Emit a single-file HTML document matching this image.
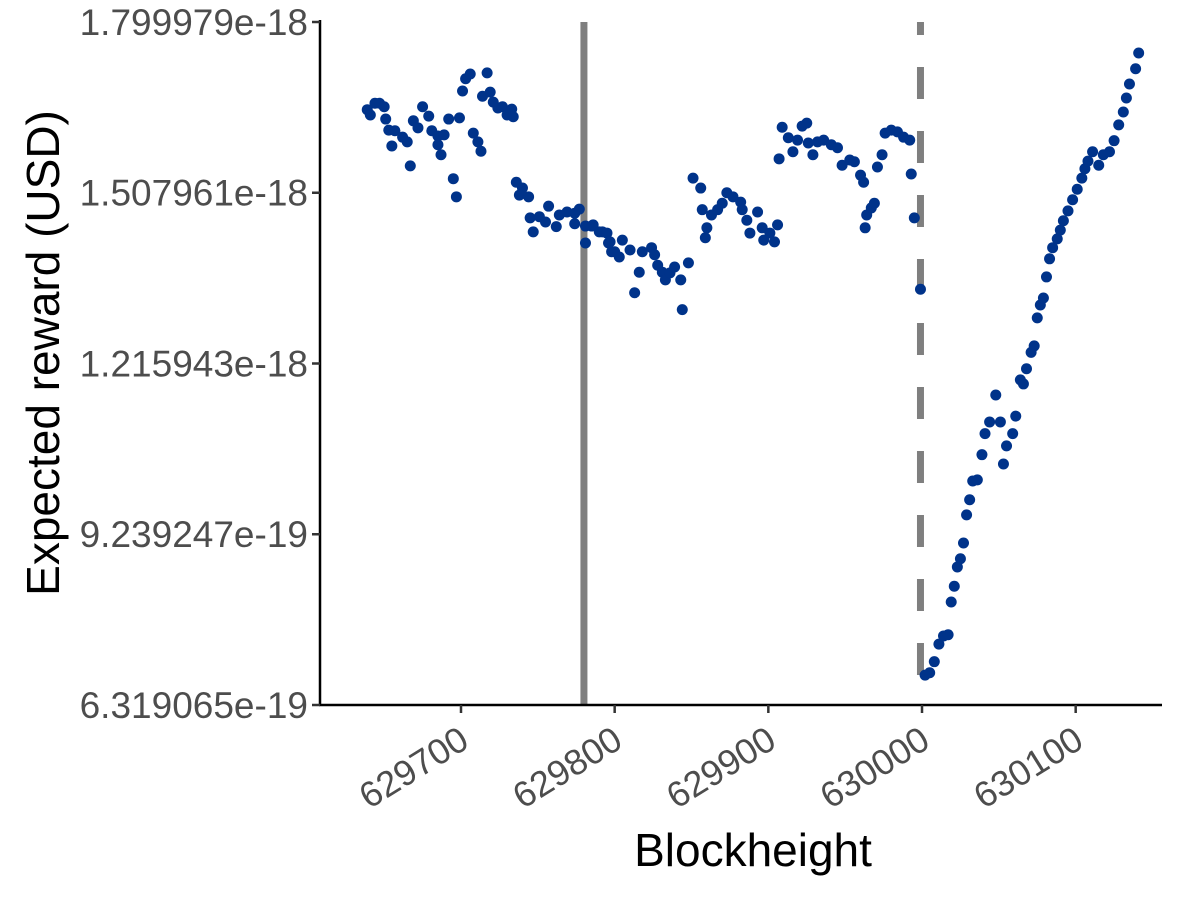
<!DOCTYPE html>
<html><head><meta charset="utf-8"><style>
body{margin:0;background:#fff;}
svg{display:block;font-family:"Liberation Sans",sans-serif;}
</style></head><body>
<svg id="chart" width="1200" height="900" xmlns="http://www.w3.org/2000/svg">
<g id="marks"></g>
</svg>
<script>
const blocks=[629639,629641,629644,629647,629650,629651,629653,629657,629655,629662,629665,629667,629669,629672,629675,629679,629681,629685,629689,629685,629687,629692,629699,629695,629697,629701,629703,629706,629717,629714,629719,629721,629724,629727,629730,629733,629734,629708,629711,629713,629736,629740,629738,629744,629745,629747,629751,629757,629755,629762,629764,629769,629774,629777,629774,629781,629785,629792,629781,629796,629798,629786,629790,629795,629797,629800,629803,629805,629810,629816,629813,629818,629824,629826,629828,629831,629833,629836,629839,629843,629844,629848,629851,629856,629857,629860,629859,629863,629867,629870,629873,629877,629882,629883,629886,629888,629893,629896,629897,629901,629904,629906,629907,629909,629913,629916,629919,629922,629925,629926,629929,629932,629936,629941,629945,629948,629953,629956,629960,629962,629963,629964,629967,629969,629971,629974,629976,629980,629984,629988,629992,629993,629995,629999,630002,630005,630008,630011,630014,630017,630019,630021,630023,630025,630027,630029,630031,630033,630036,630039,630041,630044,630048,630051,630053,630055,630059,630061,630064,630066,630068,630071,630073,630075,630077,630079,630081,630083,630085,630088,630090,630092,630095,630098,630101,630104,630106,630108,630111,630115,630118,630122,630125,630128,630131,630133,630135,630139,630141];
const rewards=[1.650,1.641,1.661,1.661,1.655,1.634,1.615,1.614,1.588,1.603,1.595,1.554,1.631,1.619,1.655,1.639,1.614,1.605,1.607,1.590,1.573,1.634,1.636,1.532,1.501,1.682,1.703,1.711,1.713,1.673,1.680,1.663,1.653,1.655,1.641,1.651,1.638,1.610,1.595,1.579,1.526,1.516,1.504,1.501,1.465,1.441,1.467,1.485,1.458,1.450,1.470,1.475,1.473,1.480,1.455,1.451,1.451,1.441,1.422,1.422,1.407,1.453,1.441,1.439,1.424,1.407,1.398,1.427,1.410,1.372,1.337,1.407,1.414,1.402,1.384,1.372,1.359,1.371,1.381,1.359,1.308,1.388,1.533,1.516,1.479,1.448,1.431,1.470,1.479,1.490,1.508,1.501,1.492,1.479,1.461,1.439,1.475,1.448,1.427,1.439,1.424,1.453,1.566,1.620,1.602,1.578,1.598,1.622,1.627,1.593,1.573,1.595,1.598,1.590,1.585,1.555,1.564,1.561,1.538,1.526,1.448,1.470,1.482,1.490,1.552,1.573,1.610,1.615,1.612,1.603,1.598,1.540,1.465,1.343,0.683,0.687,0.706,0.736,0.750,0.752,0.808,0.835,0.868,0.882,0.909,0.957,0.983,1.015,1.017,1.060,1.096,1.116,1.162,1.116,1.044,1.075,1.096,1.126,1.188,1.181,1.207,1.235,1.246,1.294,1.316,1.328,1.364,1.395,1.414,1.429,1.444,1.460,1.477,1.496,1.514,1.533,1.549,1.562,1.578,1.555,1.573,1.578,1.597,1.624,1.646,1.670,1.694,1.720,1.747];
const yTicks=[0.6319065,0.9239247,1.215943,1.507961,1.799979];
const yTickLabels=["6.319065e-19","9.239247e-19","1.215943e-18","1.507961e-18","1.799979e-18"];
const xTicks=[629700,629800,629900,630000,630100];
const xTickLabels=["629700","629800","629900","630000","630100"];
const solidLineBlock=629780;
const dashedLineBlock=629999;

const NS="http://www.w3.org/2000/svg";
const svg=document.getElementById('chart');
const g=document.getElementById('marks');
const X0=320,X1=1162,YT=22,YB=705;
function xs(b){return 461+(b-629700)*1.5367;}
function ys(v){return YB-(v-0.6319065)/(1.799979-0.6319065)*(YB-YT);}
function mk(tag,attrs,parent){const e=document.createElementNS(NS,tag);for(const k in attrs)e.setAttribute(k,attrs[k]);(parent||svg).appendChild(e);return e;}

let l=mk('line',{x1:xs(solidLineBlock),x2:xs(solidLineBlock),y1:YT,y2:YB,stroke:'#7f7f7f','stroke-width':7},g);


l=mk('line',{x1:xs(dashedLineBlock),x2:xs(dashedLineBlock),y1:YT,y2:YB,stroke:'#7f7f7f','stroke-width':7,'stroke-dasharray':'32,32','stroke-dashoffset':'19'},g);



for(let i=0;i<blocks.length;i++){
  const c=mk('circle',{cx:xs(blocks[i]),cy:ys(rewards[i]),r:5.5,fill:'#00338a'},g);
  
  
}

let a=mk('line',{x1:X0,x2:X0,y1:YT-2,y2:YB+1,stroke:'#000','stroke-width':2.5});


a=mk('line',{x1:X0-1,x2:X1,y1:YB,y2:YB,stroke:'#000','stroke-width':2.5});



for(let i=0;i<yTicks.length;i++){
  const y=ys(yTicks[i]);
  const t=mk('line',{x1:X0-8,x2:X0,y1:y,y2:y,stroke:'#333','stroke-width':2.5});
  
  
  const tx=mk('text',{x:X0-12,y:y+13,'text-anchor':'end','font-size':37,fill:'#4d4d4d'});
  tx.textContent=yTickLabels[i];
  
  
}
for(let i=0;i<xTicks.length;i++){
  const x=xs(xTicks[i]);
  const t=mk('line',{x1:x,x2:x,y1:YB,y2:YB+8,stroke:'#333','stroke-width':2.5});
  
  
  const tx=mk('text',{x:x+10,y:YB+41,'text-anchor':'end','font-size':36,fill:'#4d4d4d',transform:`rotate(-32 ${x+10} ${YB+41})`});
  tx.textContent=xTickLabels[i];
  
  
}
let tt=mk('text',{x:753,y:866,'text-anchor':'middle','font-size':46,fill:'#000'});
tt.textContent='Blockheight';


tt=mk('text',{x:59,y:353,'text-anchor':'middle','font-size':46,fill:'#000',transform:'rotate(-90 59 353)'});
tt.textContent='Expected reward (USD)';


</script>
</body></html>
